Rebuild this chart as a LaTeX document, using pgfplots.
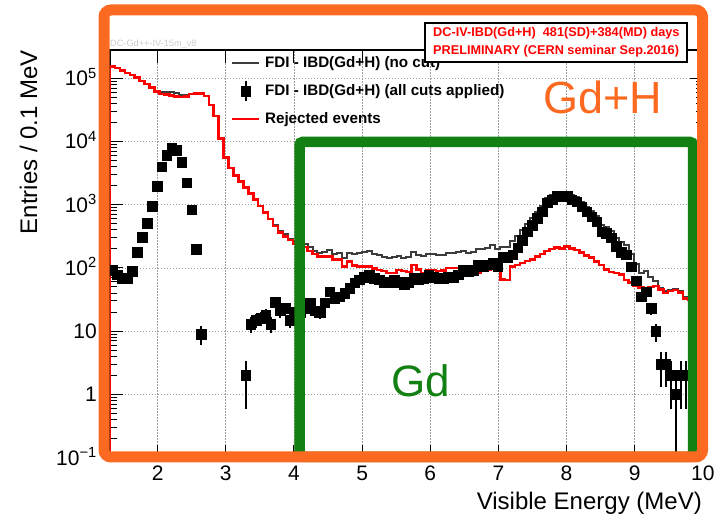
\documentclass[border=0pt]{standalone}
\usepackage{fontspec}
\setmainfont{Liberation Sans}
\usepackage{pgfplots}
\usepackage{pgfplotstable}
\pgfplotsset{compat=1.18}
\definecolor{rootorange}{RGB}{252,106,33}
\definecolor{rootgreen}{RGB}{18,128,18}
\definecolor{nocutgrey}{RGB}{60,60,60}

\pgfplotstableread{
bin red grey
0 0.01 0.01
0 154900 155000
1 144500 144600
2 131800 131900
3 120200 120300
4 112200 112300
5 102300 102500
6 91200 91500
7 81300 81800
8 70800 71800
9 61700 63600
10 56200 60200
11 55000 61000
12 53700 61600
13 51300 58500
14 50100 54800
15 51300 53500
16 56200 57000
17 57500 57700
18 57500 57500
19 52500 52500
20 38000 38000
21 25100 25100
22 11200 11200
23 5620 5620
24 3800 3800
25 2880 2880
26 2340 2340
27 1860 1860
28 1510 1524
29 1200 1215
30 955 971
31 759 777
32 589 602
33 457 486
34 363 384
35 316 339
36 275 290
37 245 265
38 224 244
39 214 237
40 186 214
41 166 187
42 151 171
43 151 179
44 151 193
45 135 168
46 135 170
47 105 145
48 126 174
49 110 168
50 105 170
51 105 177
52 105 183
53 98 167
54 93 158
55 89 149
56 83 143
57 83 148
58 93 153
59 89 143
60 87 147
61 112 181
62 95 160
63 83 152
64 91 169
65 93 165
66 89 158
67 91 160
68 100 172
69 100 172
70 100 178
71 91 184
72 83 170
73 83 176
74 85 197
75 91 196
76 93 205
77 112 232
78 93 198
79 66 214
80 65 213
81 105 267
82 112 321
83 120 395
84 129 501
85 135 614
86 151 768
87 166 942
88 186 1258
89 200 1402
90 209 1558
91 204 1584
92 219 1568
93 204 1406
94 191 1313
95 174 1107
96 158 934
97 145 791
98 126 663
99 112 484
100 95 450
101 87 389
102 83 302
103 79 257
104 65 227
105 59 164
106 52 115
107 49 84
108 48 90
109 50 73
110 52 62
111 46 49
112 40 43
113 43 45
114 45 46
115 41 43
116 33 35
117 31 31
118 30 30
119 28 28
120 28 28
}\histtab

\pgfplotstableread{
bin n ep em
0 93 9.6 9.6
1 78 8.8 8.8
2 68 8.2 8.2
3 69 8.3 8.3
4 89 9.4 9.4
5 178 13 13
6 309 18 18
7 513 23 23
8 955 31 31
9 1950 44 44
10 3981 63 63
11 6026 78 78
12 7943 89 89
13 7244 85 85
14 4677 68 68
15 2239 47 47
16 832 29 29
17 200 14 14
18 9 3 3
27 2 1.41 1.41
28 13 3.6 3.6
29 15 3.9 3.9
30 16 4 4
31 18 4.2 4.2
32 13 3.6 3.6
33 29 5.4 5.4
34 21 4.6 4.6
35 23 4.8 4.8
36 15 3.9 3.9
37 20 4.5 4.5
38 20 4.5 4.5
39 23 4.8 4.8
40 28 5.3 5.3
41 21 4.6 4.6
42 20 4.5 4.5
43 28 5.3 5.3
44 42 6.5 6.5
45 33 5.7 5.7
46 35 5.9 5.9
47 40 6.3 6.3
48 48 6.9 6.9
49 58 7.6 7.6
50 65 8.1 8.1
51 72 8.5 8.5
52 78 8.8 8.8
53 69 8.3 8.3
54 65 8.1 8.1
55 60 7.7 7.7
56 60 7.7 7.7
57 65 8.1 8.1
58 60 7.7 7.7
59 54 7.3 7.3
60 60 7.7 7.7
61 69 8.3 8.3
62 65 8.1 8.1
63 69 8.3 8.3
64 78 8.8 8.8
65 72 8.5 8.5
66 69 8.3 8.3
67 69 8.3 8.3
68 72 8.5 8.5
69 72 8.5 8.5
70 78 8.8 8.8
71 93 9.6 9.6
72 87 9.3 9.3
73 93 9.6 9.6
74 112 10.6 10.6
75 105 10.2 10.2
76 112 10.6 10.6
77 120 11 11
78 105 10.2 10.2
79 148 12.2 12.2
80 148 12.2 12.2
81 162 12.7 12.7
82 209 14.5 14.5
83 275 16.6 16.6
84 372 19.3 19.3
85 479 21.9 21.9
86 617 24.8 24.8
87 776 27.9 27.9
88 1072 32.7 32.7
89 1202 34.7 34.7
90 1349 36.7 36.7
91 1380 37.1 37.1
92 1349 36.7 36.7
93 1202 34.7 34.7
94 1122 33.5 33.5
95 933 30.5 30.5
96 776 27.9 27.9
97 646 25.4 25.4
98 537 23.2 23.2
99 372 19.3 19.3
100 355 18.8 18.8
101 302 17.4 17.4
102 219 14.8 14.8
103 178 13.3 13.3
104 162 12.7 12.7
105 105 10.2 10.2
106 63 7.9 7.9
107 35 5.9 5.9
108 42 6.5 6.5
109 23 4.8 4.8
110 10 3.2 3.2
111 3 1.7 1.7
112 3 1.7 1.7
113 2 1.41 1.41
114 1 1 0.999
115 2 1.41 1.41
116 2 1.41 1.41
}\pointtab

\begin{document}
\begin{tikzpicture}[x=1pt,y=1pt]
\useasboundingbox (0,0) rectangle (722,516);
\begin{axis}[
  at={(110pt,58.4pt)}, anchor=south west, scale only axis,
  width=592.8pt, height=407.6pt,
  xmin=1.3, xmax=10, ymode=log, ymin=0.1, ymax=2.8e5,
  xtick={2,3,4,5,6,7,8,9,10},
  ytick={0.1,1,10,100,1000,10000,100000},
  yticklabels={10\textsuperscript{−1},1,10,10\textsuperscript{2},10\textsuperscript{3},10\textsuperscript{4},10\textsuperscript{5}},
  /pgf/number format/assume math mode=true,
  tick align=inside, xtick pos=both, ytick pos=both,
  major tick length=13pt, minor tick length=7pt,
  every tick/.style={black, line width=1pt},
  grid=major,
  major grid style={gray!75, line width=0.8pt, dash pattern=on 1.2pt off 1.8pt},
  axis line style={black, line width=1.5pt},
  tick label style={font=\fontsize{21}{21}\selectfont},
  yticklabel style={anchor=east, inner sep=0pt, xshift=-13pt, text height=15pt, text depth=0pt},
  xticklabel style={anchor=north, inner sep=0pt, yshift=-7.5pt, text height=15pt, text depth=0pt},
  legend style={at={(axis description cs:0.2035,0.9926)}, anchor=north west,
    draw=none, fill=none, inner sep=0pt, row sep=7pt,
    font=\bfseries\fontsize{15.2}{18}\selectfont,
    nodes={inner sep=0pt}},
  legend cell align=left,
]
\addplot[const plot, nocutgrey, line width=2pt,
  legend image code/.code={\draw[nocutgrey, line width=2pt] (0pt,0pt) -- (27pt,0pt); \path[draw=none, fill=none] (0pt,-10pt) rectangle (33pt,10pt);}]
  table[x expr=1.3+0.0725*\thisrow{bin}, y=grey] {\histtab};
\addlegendentry{FDI - IBD(Gd+H) (no cut)}
\addplot[black, only marks, mark=square*, mark size=4.8pt,
  legend image code/.code={\draw[black, line width=2pt] (13.5pt,-10pt) -- (13.5pt,10pt); \fill[black] (8.7pt,-4.8pt) rectangle (18.3pt,4.8pt); \path[draw=none, fill=none] (0pt,-10pt) rectangle (33pt,10pt);},
  error bars/.cd, y dir=both, y explicit, error mark=none, error bar style={line width=2pt, black}]
  table[x expr=1.33625+0.0725*\thisrow{bin}, y=n, y error plus=ep, y error minus=em] {\pointtab};
\addlegendentry{FDI - IBD(Gd+H) (all cuts applied)}
\addplot[const plot, red, line width=2.5pt,
  legend image code/.code={\draw[red, line width=2.5pt] (0pt,0pt) -- (27pt,0pt); \path[draw=none, fill=none] (0pt,-10pt) rectangle (33pt,10pt);}]
  table[x expr=1.3+0.0725*\thisrow{bin}, y=red] {\histtab};
\addlegendentry{Rejected events}
\end{axis}
% annotations
\node[anchor=base west, text=gray!40, font=\fontsize{9.2}{10}\selectfont, inner sep=0pt] at (110,469) {DC-Gd++-IV-15m\_v8};
\draw[black, line width=1.3pt, fill=white] (425,454) rectangle (687,493);
\node[anchor=base west, text=red, font=\bfseries\fontsize{12.7}{15}\selectfont, inner sep=0pt] at (433,479) {DC-IV-IBD(Gd+H)\ \ 481(SD)+384(MD) days};
\node[anchor=base west, text=red, font=\bfseries\fontsize{12.7}{15}\selectfont, inner sep=0pt] at (433,461) {PRELIMINARY (CERN seminar Sep.2016)};
\draw[rootgreen, line width=10.5pt, rounded corners=3pt] (299.5,59) rectangle (693,374);
\draw[rootorange, line width=11pt, rounded corners=7pt] (104,59) rectangle (702.5,506);
\node[anchor=base, text=rootorange, font=\fontsize{45}{45}\selectfont, inner sep=0pt] at (603,402) {Gd+H};
\node[anchor=base, text=rootgreen, font=\fontsize{44}{44}\selectfont, inner sep=0pt] at (421,119) {Gd};
\node[rotate=90, anchor=base east, font=\fontsize{24}{24}\selectfont, inner sep=0pt] at (37,466) {Entries / 0.1 MeV};
\node[anchor=base east, font=\fontsize{24}{24}\selectfont, inner sep=0pt] at (702,6) {Visible Energy (MeV)};
\end{tikzpicture}
\end{document}
